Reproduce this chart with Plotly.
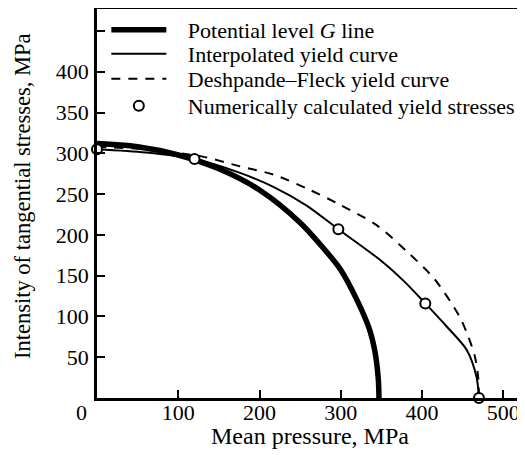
import plotly.graph_objects as go

# Data
g_x = [0, 50, 100, 150, 200, 250, 280, 300, 320, 335, 342, 346, 347]
g_y = [312, 308, 298, 281, 255, 215, 182, 157, 120, 85, 57, 25, 0]

interp_x = [0, 60, 120, 176, 217, 258, 297, 350, 378, 404, 430, 455, 467, 470]
interp_y = [305, 301, 293, 276, 259, 236, 207, 168, 143, 116, 88, 59, 26, 0]

df_x = [0, 60, 130, 176, 217, 258, 299, 344, 381, 416, 446, 457, 465, 469, 470]
df_y = [308, 305, 296, 284, 274, 257, 237, 212, 180, 145, 100, 75, 51, 26, 0]

pts_x = [0, 120, 297, 404, 470]
pts_y = [305, 293, 207, 116, 0]

x_ticks = [100, 200, 300, 400, 500]
y_ticks = [0, 50, 100, 150, 200, 250, 300, 350, 400, 450]
y_ticktext = ["", "50", "100", "150", "200", "250", "300", "350", "400", ""]

names = ["Potential level <i>G</i> line", "Interpolated yield curve",
         "Deshpande\u2013Fleck yield curve", "Numerically calculated yield stresses"]

FONT = "Liberation Serif"
PAD = "\u00a0\u00a0\u00a0"

fig = go.Figure()
fig.add_trace(go.Scatter(x=g_x, y=g_y, mode="lines", name=PAD + names[0], legend="legend",
                         line=dict(color="black", width=5.5, shape="spline", smoothing=1.0)))
fig.add_trace(go.Scatter(x=interp_x, y=interp_y, mode="lines", name=PAD + names[1], legend="legend2",
                         line=dict(color="black", width=2, shape="spline", smoothing=0.8)))
fig.add_trace(go.Scatter(x=df_x, y=df_y, mode="lines", name=PAD + names[2], legend="legend3",
                         line=dict(color="black", width=2, dash="9px,8px", shape="spline", smoothing=0.8)))
fig.add_trace(go.Scatter(x=pts_x, y=pts_y, mode="markers", name=PAD + names[3], legend="legend4",
                         marker=dict(symbol="circle", size=10, color="white",
                                     line=dict(color="black", width=2)),
                         cliponaxis=False))

def leg(yc):
    return dict(x=0.022, y=yc, xanchor="left", yanchor="middle",
                bgcolor="rgba(0,0,0,0)", borderwidth=0,
                font=dict(family=FONT, size=22, color="black"), itemwidth=55)

# legend row centres (pixels from top of window): plot area top 9, bottom 398
rows = [30, 54, 79, 106]
ys = [(398 - r) / 389 for r in rows]

# The page body has an 8px margin, so the figure is sized/margined to land the
# plot area at x 97..522, y 9..398 within the 525x455 window.
fig.update_layout(
    width=517, height=447,
    margin=dict(l=89, r=3, t=1, b=57, autoexpand=False),
    paper_bgcolor="white", plot_bgcolor="white",
    font=dict(family=FONT, size=22, color="black"),
    showlegend=True,
    legend=leg(ys[0]), legend2=leg(ys[1]), legend3=leg(ys[2]), legend4=leg(ys[3]),
    xaxis=dict(range=[0, 523], tickvals=x_ticks, ticks="inside", ticklen=8, tickwidth=1.5,
               tickcolor="black", showline=True, linecolor="black", linewidth=2.5, mirror=True,
               showgrid=False, zeroline=False, automargin=False,
               tickfont=dict(family=FONT, size=22), ticklabelstandoff=-7),
    yaxis=dict(range=[0, 477], tickvals=y_ticks, ticktext=y_ticktext, ticks="inside", ticklen=8,
               tickwidth=1.5, tickcolor="black", showline=True, linecolor="black", linewidth=2.5,
               mirror=True, showgrid=False, zeroline=False, automargin=False,
               tickfont=dict(family=FONT, size=22), ticklabelstandoff=1),
)
# corner "0" label
fig.add_annotation(text="0", xref="paper", yref="paper", x=-0.036, y=0, xanchor="center",
                   yanchor="middle", yshift=-14, showarrow=False, font=dict(family=FONT, size=22))
# axis titles
fig.add_annotation(text="Mean pressure, MPa", xref="paper", yref="paper", x=0.502, y=0,
                   xanchor="center", yanchor="middle", yshift=-38, showarrow=False,
                   font=dict(family=FONT, size=24))
fig.add_annotation(text="Intensity of tangential stresses, MPa", xref="paper", yref="paper",
                   x=0, y=(398 - 196) / 389, xanchor="center", yanchor="middle", xshift=-75,
                   textangle=-90, showarrow=False, font=dict(family=FONT, size=22.5))

fig.write_html("out.html")
